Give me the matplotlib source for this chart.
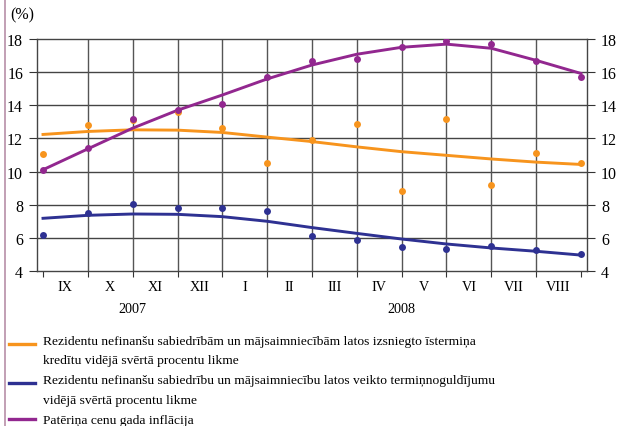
import numpy as np
import matplotlib
matplotlib.use("Agg")
import matplotlib.pyplot as plt
from matplotlib.lines import Line2D

months = ["IX", "X", "XI", "XII", "I", "II", "III", "IV", "V", "VI", "VII", "VIII"]
years = ["2007", "2008"]
year_centers = [2, 8]
yticks = [4, 6, 8, 10, 12, 14, 16, 18]

# observed monthly values (dots)
credit = [11.05, 12.8, 13.1, 13.6, 12.6, 10.5, 11.9, 12.9, 8.8, 13.2, 9.2, 11.1, 10.5]
deposit = [6.15, 7.5, 8.05, 7.8, 7.8, 7.6, 6.1, 5.9, 5.45, 5.35, 5.5, 5.25, 5.0]
inflation = [10.1, 11.4, 13.2, 13.7, 14.1, 15.7, 16.7, 16.8, 17.5, 17.9, 17.7, 16.7, 15.7]

# trend lines
credit_trend = [12.24, 12.42, 12.52, 12.50, 12.36, 12.08, 11.81, 11.49, 11.20, 10.98, 10.76, 10.57, 10.43]
deposit_trend = [7.18, 7.36, 7.44, 7.42, 7.28, 7.00, 6.62, 6.27, 5.93, 5.63, 5.39, 5.19, 4.96]
inflation_trend = [10.11, 11.37, 12.62, 13.70, 14.62, 15.59, 16.43, 17.08, 17.50, 17.69, 17.44, 16.71, 15.92]

labels = [
    ["Rezidentu nefinanšu sabiedrībām un mājsaimniecībām latos izsniegto īstermiņa",
     "kredītu vidējā svērtā procentu likme"],
    ["Rezidentu nefinanšu sabiedrību un mājsaimniecību latos veikto termiņnoguldījumu",
     "vidējā svērtā procentu likme"],
    ["Patēriņa cenu gada inflācija"],
]
colors = ["#F7941D", "#2E3192", "#92278F"]

plt.rcParams['font.family'] = ['Liberation Serif', 'DejaVu Serif']

fig = plt.figure(figsize=(6.18, 4.27), dpi=100)
ax = fig.add_axes([37/618, 1-272/427, 550/618, 232/427])

x = np.arange(len(credit))
for data, trend, c in zip([credit, deposit, inflation],
                          [credit_trend, deposit_trend, inflation_trend], colors):
    ax.plot(x, trend, color=c, lw=2.1, zorder=3, solid_joinstyle='round')
    ax.plot(x, data, 'o', color=c, ms=5, zorder=4, mec='none')

ax.set_xlim(-0.134, 12.134)
ax.set_ylim(4, 18)
ax.set_yticks(yticks)
ax.set_xticks(np.arange(13))
ax.set_xticklabels([])
for v in yticks[1:-1]:
    ax.axhline(v, color="#444444", lw=1.0, zorder=1)
for v in range(1, 12):
    ax.axvline(v, color="#555555", lw=1.0, zorder=1)
ax.tick_params(axis='y', which='both', left=True, right=True, labelleft=True, labelright=True,
               direction='out', length=6, pad=4, labelsize=11.5, color="#333333")
ax.tick_params(axis='x', direction='out', length=4, color="#333333")
for s in ax.spines.values():
    s.set_color("#444444")
    s.set_linewidth(1.0)

for i, m in enumerate(months):
    ax.text(i + 0.5, -15.3/232, m, transform=ax.get_xaxis_transform(), ha='center', va='center', fontsize=10.2)
for yr, c in zip(years, year_centers):
    ax.text(c, -37.3/232, yr, transform=ax.get_xaxis_transform(), ha='center', va='center', fontsize=10.2)

fig.text(10/618, 1-15/427, "(%)", ha='left', va='center', fontsize=11.5)

# left border line
fig.add_artist(Line2D([5/618, 5/618], [0, 1], transform=fig.transFigure, color="#B88FA8", lw=1.2))

# legend
text_rows = [[341.7, 360.7], [381.0, 400.7], [420.7]]
handle_y = [345.0, 384.0, 420.0]
for lines, c, rows, hy in zip(labels, colors, text_rows, handle_y):
    fy = 1 - hy/427
    fig.add_artist(Line2D([9/618, 35/618], [fy, fy], transform=fig.transFigure, color=c, lw=2.4))
    for t, r in zip(lines, rows):
        fig.text(43/618, 1 - r/427, t, ha='left', va='center', fontsize=9.7)

fig.savefig("out.png", dpi=100)
